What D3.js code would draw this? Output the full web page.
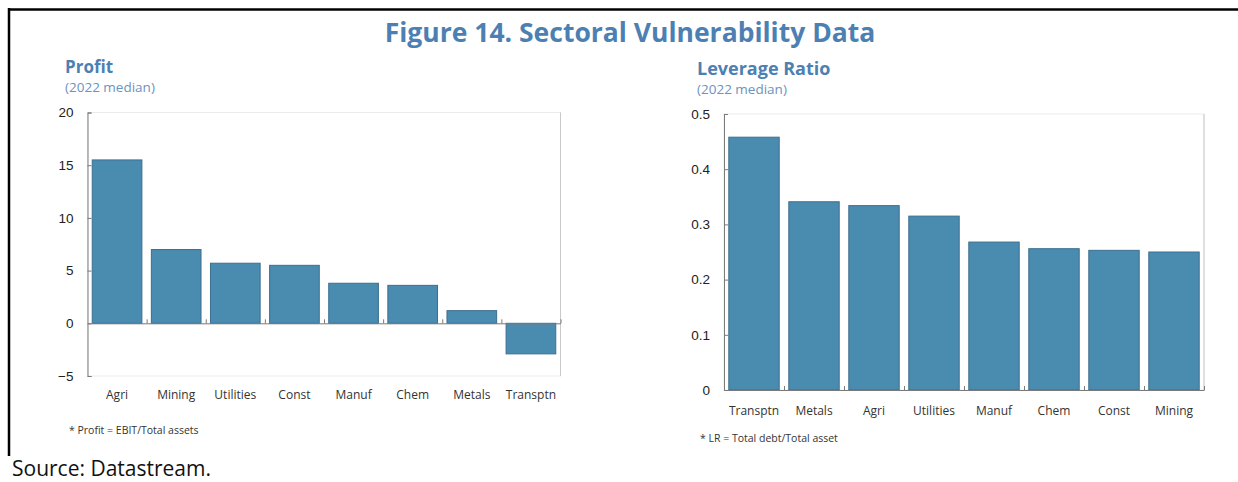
<!DOCTYPE html>
<html lang="en">
<head>
<meta charset="UTF-8" />
<title>Figure 14. Sectoral Vulnerability Data</title>
<script src="https://d3js.org/d3.v7.min.js"></script>
<style>
    body { margin: 0; background: #fff; font-family: "Open Sans", "Noto Sans", sans-serif; }
    .axis text { fill: #222; }
    .axis path, .axis line { stroke: #7a7a7a; }
    .cat { fill: #333; }
    .note { fill: #333; }
</style>
</head>
<body>
<div id="chart"></div>
<script>
    // profit panel
    const profitCats = ["Agri", "Mining", "Utilities", "Const", "Manuf", "Chem", "Metals", "Transptn"];
    const profitVals = [15.5, 7.0, 5.7, 5.5, 3.8, 3.6, 1.2, -2.9];
    const profitTicks = [-5, 0, 5, 10, 15, 20];

    // leverage panel
    const levCats = ["Transptn", "Metals", "Agri", "Utilities", "Manuf", "Chem", "Const", "Mining"];
    const levVals = [0.458, 0.341, 0.334, 0.315, 0.268, 0.256, 0.253, 0.250];
    const levTicks = [0, 0.1, 0.2, 0.3, 0.4, 0.5];

    const W = 1238, H = 482;
    const blue = "#4d80b2";

    const svg = d3.select("#chart").append("svg")
        .attr("width", W)
        .attr("height", H);

    // frame (top and left only, figure is cropped)
    svg.append("line").attr("x1", 8).attr("x2", W).attr("y1", 9.5).attr("y2", 9.5)
        .attr("stroke", "#000").attr("stroke-width", 2.5);
    svg.append("line").attr("x1", 9).attr("x2", 9).attr("y1", 8).attr("y2", 456)
        .attr("stroke", "#000").attr("stroke-width", 2.5);

    svg.append("text")
        .attr("x", 630).attr("y", 42)
        .attr("text-anchor", "middle")
        .attr("font-size", "26.5px")
        .attr("font-weight", "bold")
        .attr("fill", blue)
        .text("Figure 14. Sectoral Vulnerability Data");

    svg.append("text")
        .attr("x", 12).attr("y", 476)
        .attr("font-size", "21px")
        .attr("fill", "#111")
        .text("Source: Datastream.");

    function panel(opt) {
        const g = svg.append("g");

        g.append("text").attr("x", opt.tx).attr("y", opt.ty)
            .attr("font-size", opt.ts).attr("font-weight", "bold").attr("fill", blue)
            .text(opt.title);
        g.append("text").attr("x", opt.tx).attr("y", opt.ty + 19)
            .attr("font-size", "13.5px").attr("fill", "#6b93bd")
            .text("(2022 median)");

        const x = d3.scaleBand()
            .domain(opt.cats)
            .range([opt.x0, opt.x1])
            .paddingInner(0.16)
            .paddingOuter(0.08);

        const y = d3.scaleLinear()
            .domain(d3.extent(opt.ticks))
            .range([opt.yb, opt.yt]);

        // light plot frame
        g.append("rect")
            .attr("x", opt.x0).attr("y", opt.yt)
            .attr("width", opt.x1 - opt.x0).attr("height", opt.yb - opt.yt)
            .attr("fill", "none").attr("stroke", "#ebebeb");
        g.append("line")
            .attr("x1", opt.x1).attr("x2", opt.x1).attr("y1", opt.yt).attr("y2", opt.yb)
            .attr("stroke", "#c9c9c9");

        g.selectAll(".bar")
            .data(opt.vals)
            .enter().append("rect")
            .attr("class", "bar")
            .attr("x", (d, i) => x(opt.cats[i]))
            .attr("width", x.bandwidth())
            .attr("y", d => y(Math.max(0, d)))
            .attr("height", d => Math.abs(y(d) - y(0)))
            .attr("fill", "#4a8bb0")
            .attr("stroke", "#3a6f8f")
            .attr("stroke-width", 1);

        // y axis, ticks pointing inward
        g.append("g")
            .attr("class", "axis")
            .attr("transform", `translate(${opt.x0},0)`)
            .call(d3.axisLeft(y).tickValues(opt.ticks).tickSize(-4).tickPadding(14)
                .tickFormat(opt.fmt))
            .call(a => a.selectAll("text").attr("font-size", "13.5px"));

        // zero line with separator ticks between categories
        const sep = d3.scaleLinear().domain([0, opt.cats.length]).range([opt.x0, opt.x1]);
        g.append("g")
            .attr("class", "axis")
            .attr("transform", `translate(0,${y(0)})`)
            .call(d3.axisTop(sep).tickValues(d3.range(1, opt.cats.length + 1))
                .tickSize(4).tickSizeOuter(0).tickFormat(""));

        g.selectAll(".cat")
            .data(opt.cats)
            .enter().append("text")
            .attr("class", "cat")
            .attr("x", d => x(d) + x.bandwidth() / 2)
            .attr("y", opt.yl)
            .attr("text-anchor", "middle")
            .attr("font-size", "12px")
            .text(d => d);

        g.append("text")
            .attr("class", "note")
            .attr("x", opt.nx).attr("y", opt.ny)
            .attr("font-size", "10.5px")
            .text(opt.note);
    }

    panel({
        title: "Profit", tx: 65, ty: 73, ts: "17px",
        cats: profitCats, vals: profitVals, ticks: profitTicks,
        fmt: d3.format("d"),
        x0: 87.5, x1: 560.5, yt: 112.5, yb: 376, yl: 399,
        note: "* Profit = EBIT/Total assets", nx: 69, ny: 434
    });

    panel({
        title: "Leverage Ratio", tx: 697, ty: 75, ts: "18px",
        cats: levCats, vals: levVals, ticks: levTicks,
        fmt: d => d === 0 ? "0" : d3.format(".1f")(d),
        x0: 724, x1: 1204, yt: 114, yb: 390, yl: 415,
        note: "* LR = Total debt/Total asset", nx: 700, ny: 442
    });
</script>
</body>
</html>
